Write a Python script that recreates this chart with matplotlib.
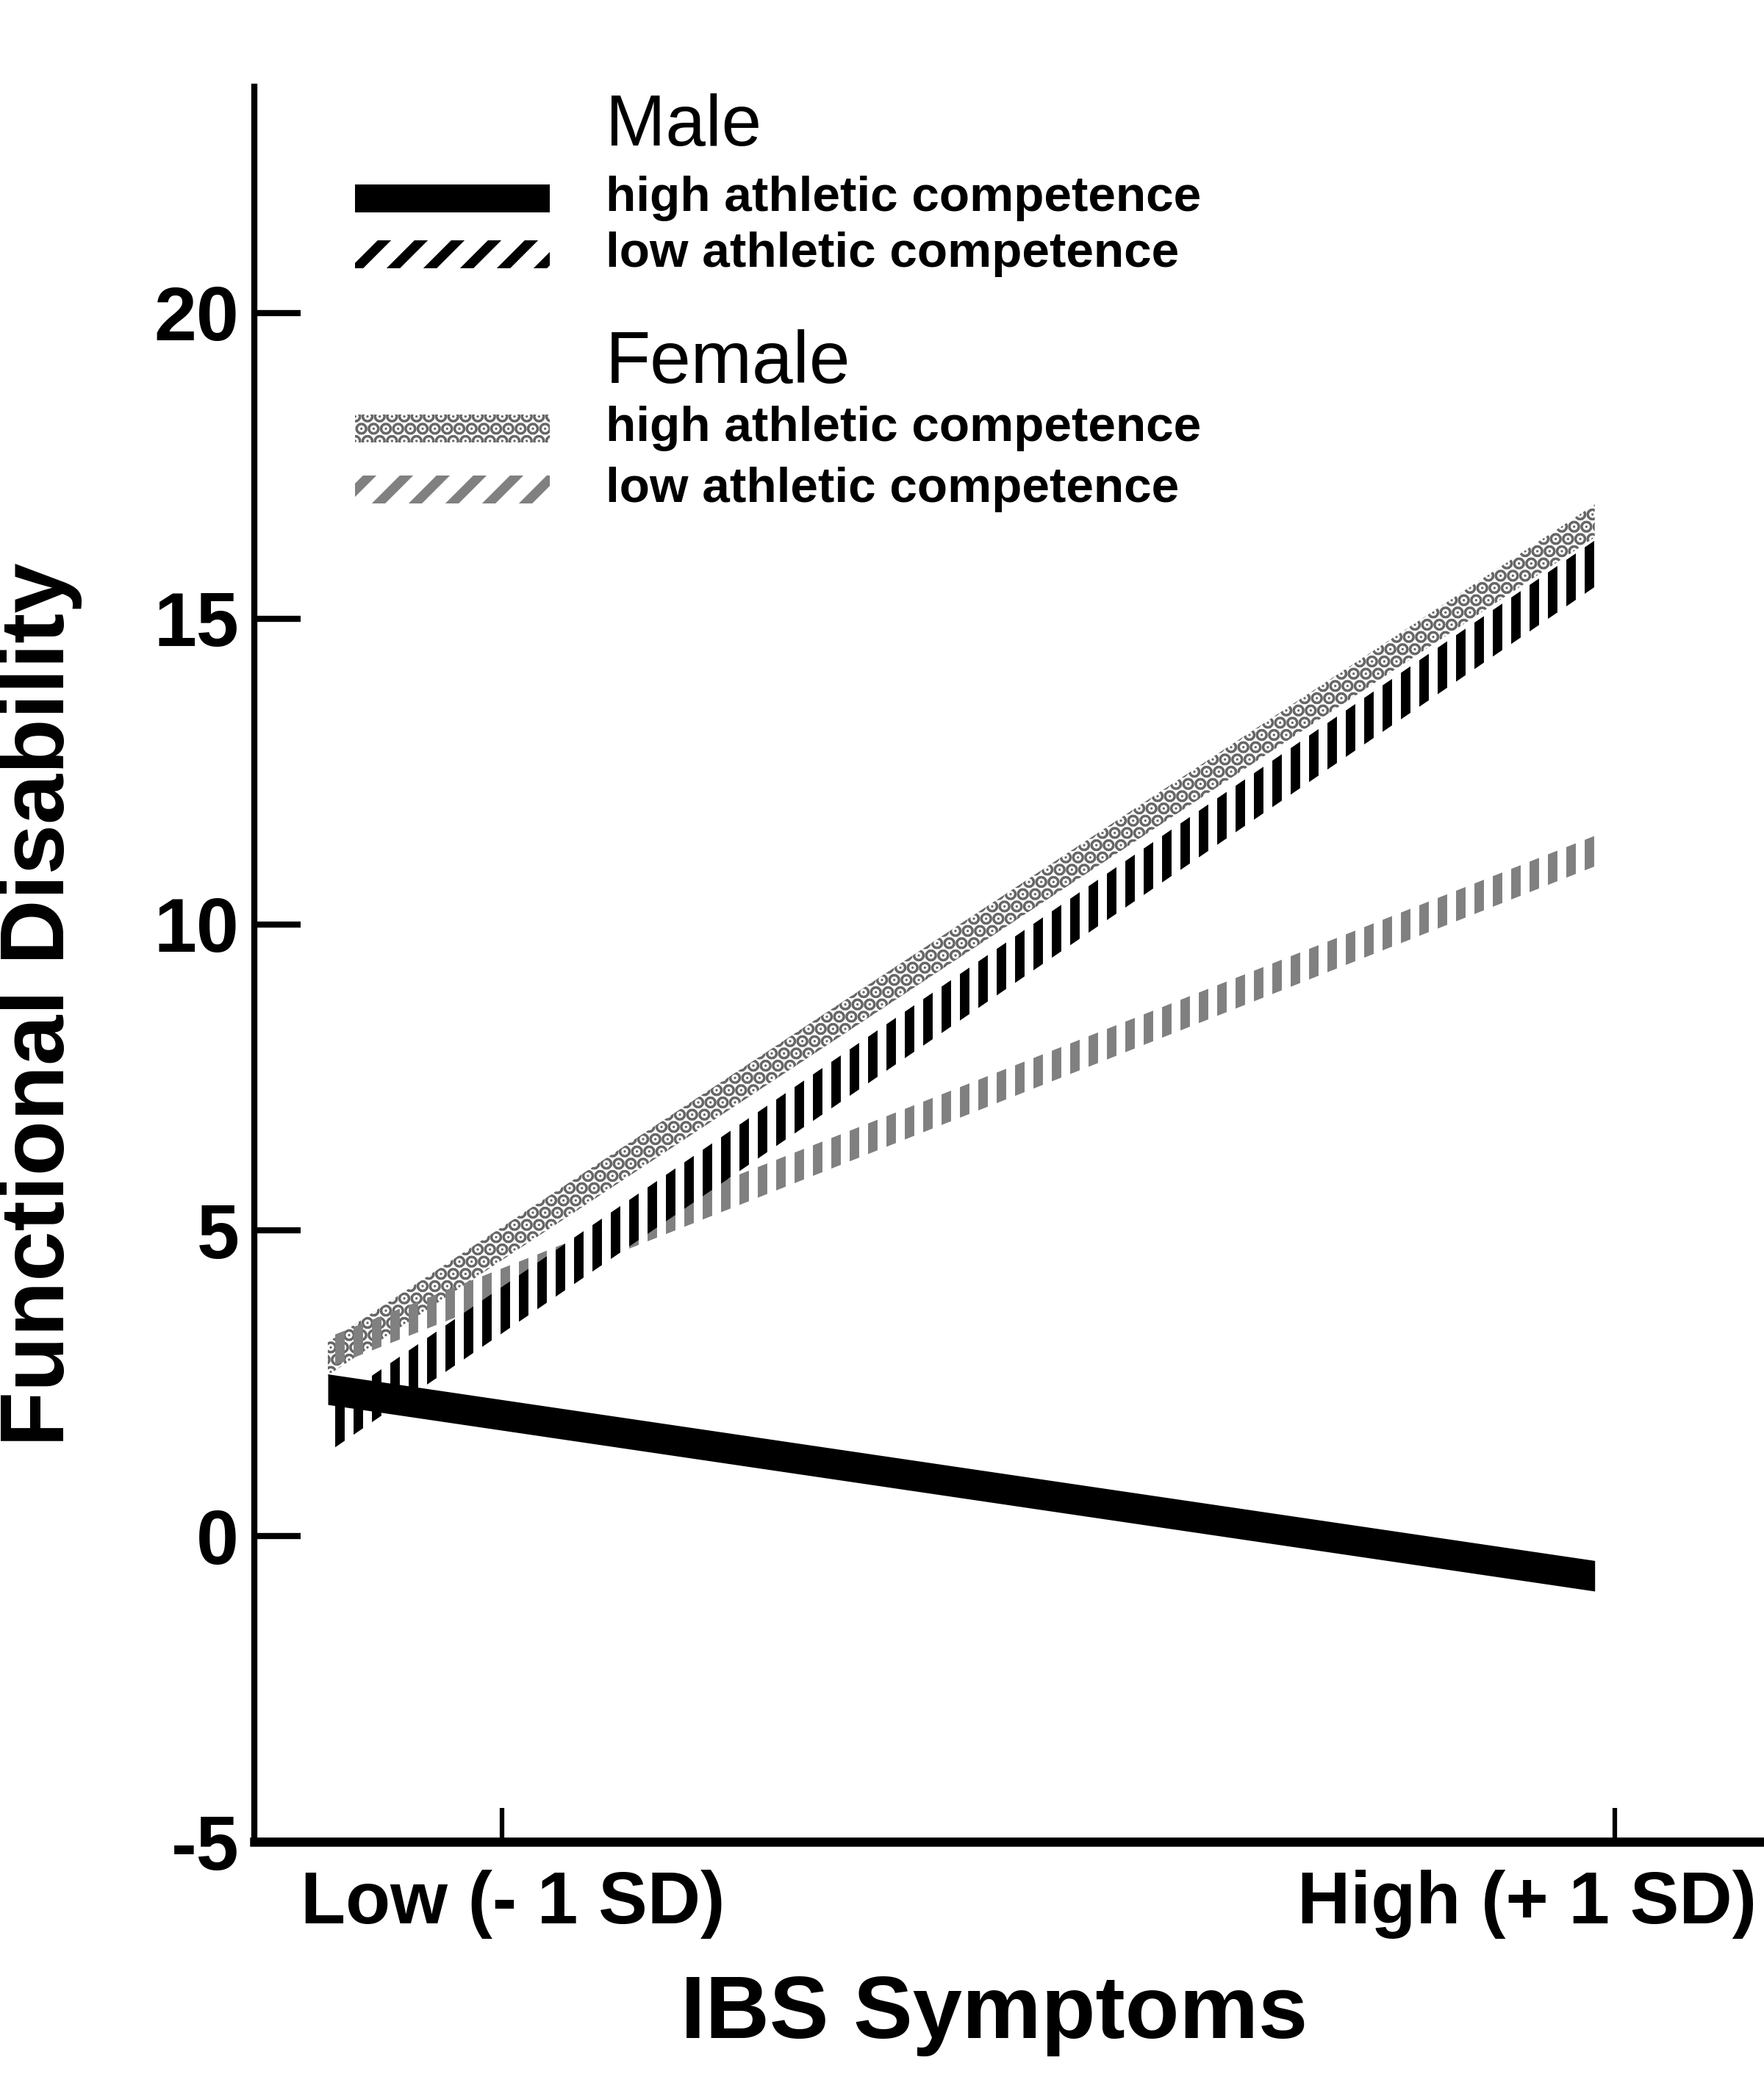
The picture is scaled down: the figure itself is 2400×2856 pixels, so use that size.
import matplotlib
matplotlib.use("Agg")
import matplotlib.pyplot as plt
from matplotlib.patches import Rectangle
from matplotlib.transforms import ScaledTranslation
import numpy as np

# IBS symptom level (-1 SD, +1 SD) and predicted functional disability
ibs_level = [-1, 1]
male_high = [2.4, -0.65]
male_low = [1.75, 15.9]
female_high = [2.9, 16.6]
female_low = [3.0, 11.2]

x_tick_labels = ["Low (- 1 SD)", "High (+ 1 SD)"]
y_ticks = [-5, 0, 5, 10, 15, 20]

plt.rcParams["font.family"] = ["Liberation Sans", "DejaVu Sans"]
plt.rcParams["hatch.linewidth"] = 3.1
plt.rcParams["axes.unicode_minus"] = False

fig = plt.figure(figsize=(8, 9.52), dpi=300)
ax = fig.add_axes([0.1442, 0.1225, 0.855, 0.8362])

# (values, half thickness, face, hatch, hatch colour, legend hatch)
styles = [
    (female_high, 0.27, "none", "...", "0.4", "..."),
    (female_low, 0.25, "none", "||", "0.5", "//"),
    (male_low, 0.38, "none", "||", "black", "//"),
    (male_high, 0.25, "black", None, "black", None),
]

x = np.array(ibs_level, dtype=float)
for vals, half, face, hatch, hc, _ in styles:
    y = np.array(vals)
    ax.fill_between(x, y - half, y + half, facecolor=face, edgecolor=hc,
                    hatch=hatch, linewidth=0)

ax.set_xlim(-1.116, 1.265)
ax.set_ylim(-5, 23.7)

for s in ["top", "right"]:
    ax.spines[s].set_visible(False)
ax.spines["left"].set_linewidth(2)
ax.spines["bottom"].set_linewidth(3)

ax.set_yticks(y_ticks)
ax.tick_params(axis="y", direction="in", length=15, width=2, pad=5,
               labelsize=25)
ax.set_xticks([-0.725, 1.032])
ax.set_xticklabels(x_tick_labels)
ax.tick_params(axis="x", direction="in", length=11, width=1.5, pad=9,
               labelsize=24)
for lab in ax.get_yticklabels() + ax.get_xticklabels():
    lab.set_fontweight("bold")

# scanned layout: labels sit off their ticks
xl = ax.get_xticklabels()
xl[0].set_transform(xl[0].get_transform() + ScaledTranslation(0.05, 0, fig.dpi_scale_trans))
xl[1].set_transform(xl[1].get_transform() + ScaledTranslation(-0.40, 0, fig.dpi_scale_trans))

ax.set_xlabel("IBS Symptoms", fontsize=29, fontweight="bold", va="center")
ax.xaxis.set_label_coords(0.4905, -0.0984)
ax.set_ylabel("Functional Disability", fontsize=29.5, fontweight="bold",
              va="center", ha="center")
ax.yaxis.set_label_coords(-0.142, 0.477)

# legend drawn by hand so the group headers can sit above their entries
sw_x, sw_w, sw_h = 0.0669, 0.1288, 0.016
txt_x = 0.2328
ax.text(txt_x, 0.9770, "Male", transform=ax.transAxes, fontsize=23.5, va="center")
ax.text(txt_x, 0.8421, "Female", transform=ax.transAxes, fontsize=24, va="center")

entries = [
    (0.9364, "high athletic competence", styles[3]),
    (0.9045, "low athletic competence", styles[2]),
    (0.8052, "high athletic competence", styles[0]),
    (0.7705, "low athletic competence", styles[1]),
]
for yc, label, st in entries:
    face, hc, lhatch = st[2], st[4], st[5]
    ax.add_patch(Rectangle((sw_x, yc - sw_h / 2), sw_w, sw_h, transform=ax.transAxes,
                           facecolor=face, edgecolor=hc, hatch=lhatch, linewidth=0,
                           clip_on=False))
    ax.text(txt_x, yc, label, transform=ax.transAxes, fontsize=16.2,
            fontweight="bold", va="center")

fig.savefig("out.png", dpi=300, facecolor="white")
